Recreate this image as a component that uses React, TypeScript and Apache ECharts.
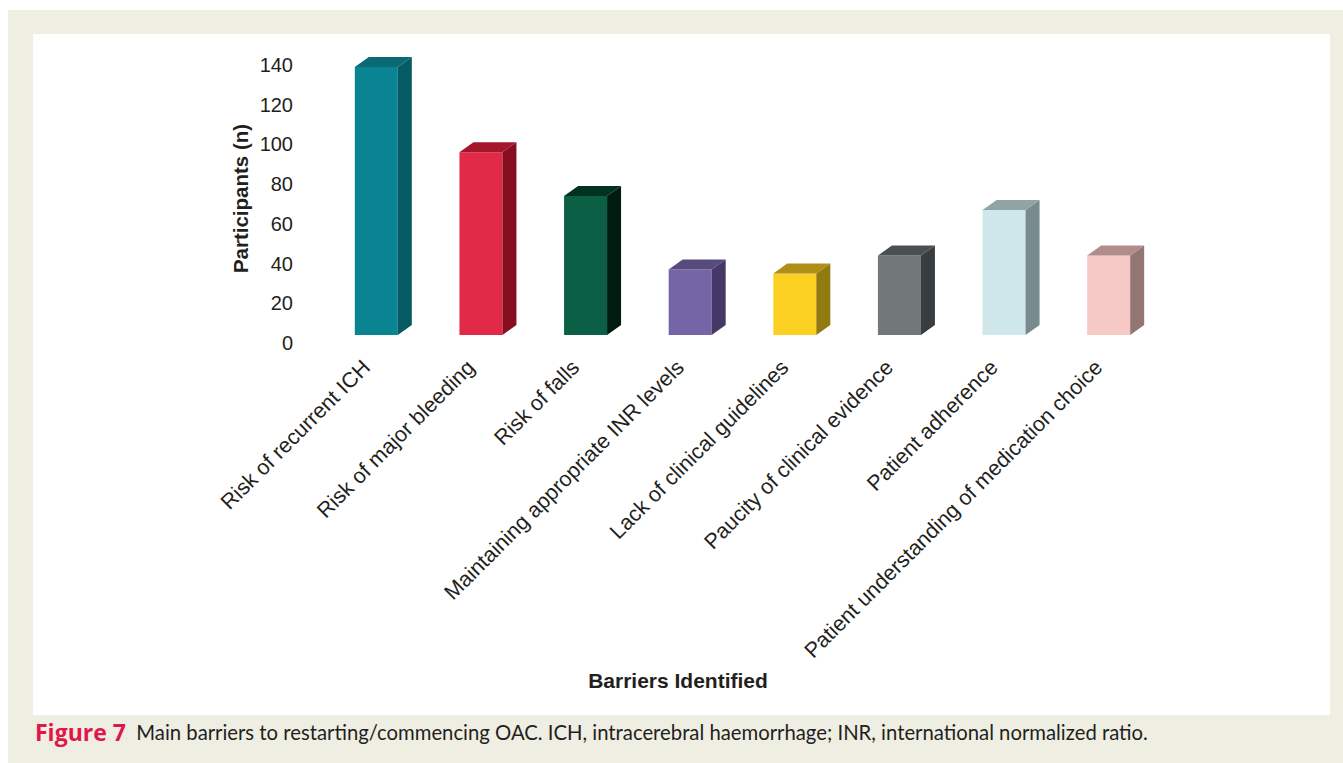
import React, { useEffect, useRef } from "react";
import * as echarts from "echarts";

const categories = [
  "Risk of recurrent ICH",
  "Risk of major bleeding",
  "Risk of falls",
  "Maintaining appropriate INR levels",
  "Lack of clinical guidelines",
  "Paucity of clinical evidence",
  "Patient adherence",
  "Patient understanding of medication choice",
];
const participants = [135, 92, 70, 33, 31, 40, 63, 40];
const yTicks = [0, 20, 40, 60, 80, 100, 120, 140];

const frontColors = ["#0a8392", "#e02a47", "#0a5f45", "#7565a6", "#fbd022", "#727779", "#cfe7eb", "#f6c9c6"];
const sideColors = ["#055a63", "#860d20", "#001c0e", "#463866", "#927a10", "#393d3f", "#778a8c", "#937574"];
const topColors = ["#0a6a74", "#a3162c", "#00321f", "#574a7c", "#b08f19", "#4a4f51", "#91a4a5", "#b08c8a"];

const FONT = "'Liberation Sans', Arial, sans-serif";

export default function App() {
  const ref = useRef<HTMLDivElement>(null);
  useEffect(() => {
    if (!ref.current) return;
    const chart = echarts.init(ref.current, null, { renderer: "svg" });
    const barW = 43;
    const dx = 14;
    const dy = 10;
    const shift = -8;
    chart.setOption({
      animation: false,
      grid: { left: 324, width: 837, top: 65, height: 278, containLabel: false },
      xAxis: {
        type: "category",
        data: categories,
        axisLine: { show: false },
        axisTick: { show: false },
        axisLabel: {
          rotate: 45,
          margin: 11,
          padding: [0, 14, 0, 0],
          fontSize: 21.5,
          fontFamily: FONT,
          color: "#231f20",
          interval: 0,
        },
      },
      yAxis: {
        type: "value",
        min: 0,
        max: yTicks[yTicks.length - 1],
        interval: yTicks[1] - yTicks[0],
        splitLine: { show: false },
        axisLine: { show: false },
        axisTick: { show: false },
        axisLabel: { margin: 31, fontSize: 20, fontFamily: FONT, color: "#231f20" },
      },
      graphic: [
        { type: "rect", z: -10, silent: true, shape: { x: 8, y: 10, width: 1335, height: 753 }, style: { fill: "#efeee3" } },
        { type: "rect", z: -9, silent: true, shape: { x: 33, y: 34, width: 1297, height: 681 }, style: { fill: "#ffffff" } },
        {
          type: "text",
          x: 240.5,
          y: 198.5,
          rotation: Math.PI / 2,
          style: {
            text: "Participants (n)",
            font: `bold 20.5px ${FONT}`,
            fill: "#231f20",
            align: "center",
            verticalAlign: "middle",
          },
        },
        {
          type: "text",
          x: 678,
          y: 680,
          style: {
            text: "Barriers Identified",
            font: `bold 21px ${FONT}`,
            fill: "#231f20",
            align: "center",
            verticalAlign: "middle",
          },
        },
        {
          type: "text",
          x: 35,
          y: 732,
          style: {
            text: "{a|Figure 7}{b|  Main barriers to restarting/commencing OAC. ICH, intracerebral haemorrhage; INR, international normalized ratio.}",
            verticalAlign: "middle",
            rich: {
              a: { fontFamily: "'Open Sans', sans-serif", fontWeight: "bold", fontSize: 23, fill: "#e0174a" },
              b: { fontFamily: "Lato, sans-serif", fontSize: 20.3, fill: "#231f20" },
            },
          },
        },
      ],
      series: [
        {
          type: "custom",
          data: participants.map((v, i) => [i, v]),
          renderItem: (params: any, api: any) => {
            const idx = params.dataIndex;
            const v = api.value(1);
            const top = api.coord([api.value(0), v]);
            const base = api.coord([api.value(0), 0]);
            const x = top[0];
            const yT = top[1] + shift;
            const yB = base[1] + shift;
            const l = x - barW / 2;
            const r = x + barW / 2;
            return {
              type: "group",
              children: [
                {
                  type: "rect",
                  shape: { x: l, y: yT, width: barW, height: yB - yT },
                  style: { fill: frontColors[idx] },
                },
                {
                  type: "polygon",
                  shape: { points: [[r, yT], [r + dx, yT - dy], [r + dx, yB - dy], [r, yB]] },
                  style: { fill: sideColors[idx] },
                },
                {
                  type: "polygon",
                  shape: { points: [[l, yT], [l + dx, yT - dy], [r + dx, yT - dy], [r, yT]] },
                  style: { fill: topColors[idx] },
                },
              ],
            };
          },
        },
      ],
    });
    return () => chart.dispose();
  }, []);
  return (
    <div
      ref={ref}
      style={{ position: "fixed", left: 0, top: 0, width: 1343, height: 763, background: "#ffffff" }}
    />
  );
}
